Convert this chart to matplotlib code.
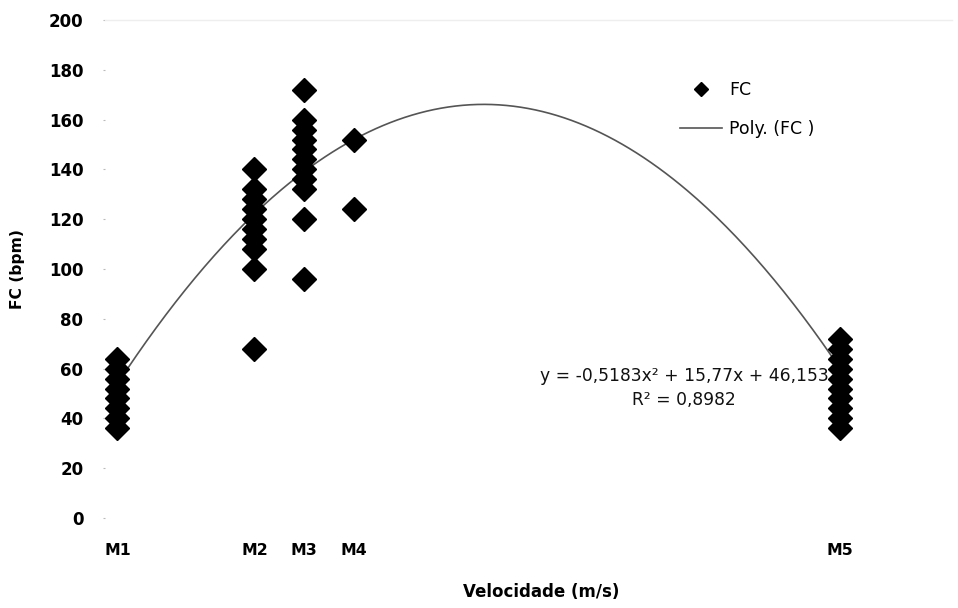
import numpy as np
import matplotlib
matplotlib.use("Agg")
import matplotlib.pyplot as plt
from matplotlib.lines import Line2D

plt.rcParams["font.family"] = ["DejaVu Sans"]

# Measurement moments and their velocity position on the x axis
moments = ["M1", "M2", "M3", "M4", "M5"]
moment_x = [0.5, 6, 8, 10, 29.5]

# Heart rate (bpm) readings per moment
fc_m1 = [36, 40, 44, 48, 52, 56, 60, 64]
fc_m2 = [68, 100, 108, 112, 116, 120, 124, 128, 132, 140]
fc_m3 = [96, 120, 132, 136, 140, 144, 148, 152, 156, 160, 172]
fc_m4 = [124, 152]
fc_m5 = [36, 40, 44, 48, 52, 56, 60, 64, 68, 72]

# Polynomial trendline reported on the chart
poly_coef = [-0.5183, 15.77, 46.153]
r2 = 0.8982

groups = [fc_m1, fc_m2, fc_m3, fc_m4, fc_m5]
xs = np.concatenate([[x] * len(g) for x, g in zip(moment_x, groups)])
ys = np.concatenate(groups)

fig = plt.figure(figsize=(9.58, 6.08), dpi=100)
ax = fig.add_axes([105 / 958, 90 / 608, 846.6 / 958, 498 / 608])

ax.plot(xs, ys, linestyle="none", marker="D", markersize=12,
        color="black", zorder=3)

xt = np.linspace(min(moment_x), max(moment_x), 300)
ax.plot(xt, np.polyval(poly_coef, xt), color="#555555", linewidth=1.2, zorder=2)

ax.set_xlim(0, 34)
ax.set_ylim(0, 200)
ax.set_yticks(np.arange(0, 201, 20))
ax.set_xticks(moment_x)
ax.set_xticklabels(moments, fontweight="bold")
for lab in ax.get_yticklabels():
    lab.set_fontweight("bold")
ax.tick_params(axis="y", length=1.5, color="#bbbbbb", pad=14, labelsize=12)
ax.tick_params(axis="x", length=0, pad=18, labelsize=11.3)

for s in ["left", "right", "bottom"]:
    ax.spines[s].set_visible(False)
ax.spines["top"].set_color("#eeeeee")
ax.spines["top"].set_linewidth(1)

ax.set_xlabel("Velocidade (m/s)", fontweight="bold", fontsize=12, va="center")
ax.xaxis.set_label_coords(0.515, -0.149)
ax.set_ylabel("FC (bpm)", fontweight="bold", fontsize=11.2, va="center")
ax.yaxis.set_label_coords(-0.103, 0.5)

eq = "y = -0,5183x² + 15,77x + 46,153\nR² = " + f"{r2}".replace(".", ",")
ax.text((684 - 105) / 846.6, (518 - 388) / 498, eq, transform=ax.transAxes,
        ha="center", va="center", fontsize=12.3, linespacing=1.4,
        color="#111111")

handles = [
    Line2D([], [], linestyle="none", marker="D", markersize=7.5, color="black"),
    Line2D([], [], color="#555555", linewidth=1.2),
]
ax.legend(handles, ["FC", "Poly. (FC )"], loc="upper left",
          bbox_to_anchor=(680 / 958, (608 - 81) / 608),
          bbox_transform=fig.transFigure, frameon=False, fontsize=12.5,
          borderpad=0, borderaxespad=0, handlelength=2.4,
          handletextpad=0.45, labelspacing=1.2)

fig.savefig("out.png", dpi=100)
